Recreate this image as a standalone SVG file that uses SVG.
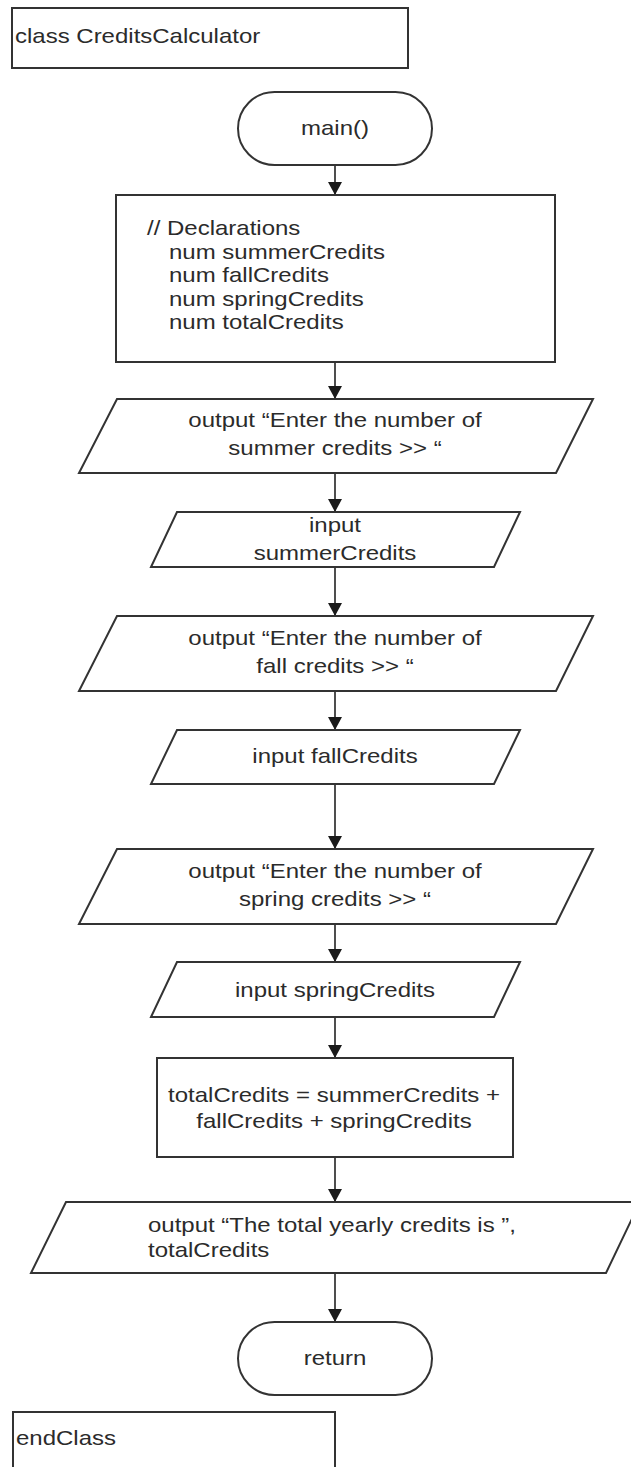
<svg xmlns="http://www.w3.org/2000/svg" width="631" height="1467" viewBox="0 0 631 1467">
  <defs>
    <marker id="arrow" markerUnits="userSpaceOnUse" markerWidth="14" markerHeight="14" viewBox="0 0 12 13" refX="12" refY="6.5" orient="auto">
      <path d="M0,0 L12,6.5 L0,13 Z" fill="#1a1a1a"/>
    </marker>
    <style>
      .shape { fill: #ffffff; stroke: #333333; stroke-width: 2; }
      .conn { fill: none; stroke: #222222; stroke-width: 1.6; marker-end: url(#arrow); }
      .t { font-family: "Liberation Sans", Arial, sans-serif; font-size: 20px; fill: #2b2b2b; }
      .c { text-anchor: middle; }
    </style>
  </defs>
  <rect width="631" height="1467" fill="#ffffff"/>

  <g id="connectors">
    <line class="conn" x1="335" y1="165" x2="335" y2="195"/>
    <line class="conn" x1="335" y1="362" x2="335" y2="399"/>
    <line class="conn" x1="335" y1="473" x2="335" y2="512"/>
    <line class="conn" x1="335" y1="567" x2="335" y2="616"/>
    <line class="conn" x1="335" y1="691" x2="335" y2="730"/>
    <line class="conn" x1="335" y1="784" x2="335" y2="849"/>
    <line class="conn" x1="335" y1="924" x2="335" y2="962"/>
    <line class="conn" x1="335" y1="1017" x2="335" y2="1058"/>
    <line class="conn" x1="335" y1="1157" x2="335" y2="1202"/>
    <line class="conn" x1="335" y1="1273" x2="335" y2="1322"/>
  </g>

  <g id="class-start">
    <rect class="shape" x="12" y="8" width="396" height="60"/>
    <text class="t" transform="translate(15,43) scale(1.2,1)">class CreditsCalculator</text>
  </g>

  <g id="main">
    <rect class="shape" x="238" y="92" width="194" height="73" rx="36.5" ry="36.5"/>
    <text class="t c" transform="translate(335,135) scale(1.2,1)">main()</text>
  </g>

  <g id="declarations">
    <rect class="shape" x="116" y="195" width="439" height="167"/>
    <text class="t" transform="translate(147,235) scale(1.2,1)">// Declarations</text>
    <text class="t" transform="translate(169,258.5) scale(1.2,1)">num summerCredits</text>
    <text class="t" transform="translate(169,282) scale(1.2,1)">num fallCredits</text>
    <text class="t" transform="translate(169,305.5) scale(1.2,1)">num springCredits</text>
    <text class="t" transform="translate(169,329) scale(1.2,1)">num totalCredits</text>
  </g>

  <g id="output-summer">
    <polygon class="shape" points="117,399 593,399 556,473 79,473"/>
    <text class="t c" transform="translate(335,427) scale(1.2,1)">output “Enter the number of</text>
    <text class="t c" transform="translate(335,455) scale(1.2,1)">summer credits &gt;&gt; “</text>
  </g>

  <g id="input-summer">
    <polygon class="shape" points="177,512 520,512 494,567 151,567"/>
    <text class="t c" transform="translate(335,532) scale(1.2,1)">input</text>
    <text class="t c" transform="translate(335,560) scale(1.2,1)">summerCredits</text>
  </g>

  <g id="output-fall">
    <polygon class="shape" points="117,616 593,616 556,691 79,691"/>
    <text class="t c" transform="translate(335,645) scale(1.2,1)">output “Enter the number of</text>
    <text class="t c" transform="translate(335,673) scale(1.2,1)">fall credits &gt;&gt; “</text>
  </g>

  <g id="input-fall">
    <polygon class="shape" points="177,730 520,730 494,784 151,784"/>
    <text class="t c" transform="translate(335,763) scale(1.2,1)">input fallCredits</text>
  </g>

  <g id="output-spring">
    <polygon class="shape" points="117,849 593,849 556,924 79,924"/>
    <text class="t c" transform="translate(335,878) scale(1.2,1)">output “Enter the number of</text>
    <text class="t c" transform="translate(335,906) scale(1.2,1)">spring credits &gt;&gt; “</text>
  </g>

  <g id="input-spring">
    <polygon class="shape" points="177,962 520,962 494,1017 151,1017"/>
    <text class="t c" transform="translate(335,997) scale(1.2,1)">input springCredits</text>
  </g>

  <g id="compute-total">
    <rect class="shape" x="157" y="1058" width="356" height="99"/>
    <text class="t c" transform="translate(334,1102) scale(1.2,1)">totalCredits = summerCredits +</text>
    <text class="t c" transform="translate(334,1128) scale(1.2,1)">fallCredits + springCredits</text>
  </g>

  <g id="output-total">
    <polygon class="shape" points="66,1202 640,1202 606,1273 31,1273"/>
    <text class="t" transform="translate(148,1232) scale(1.2,1)">output “The total yearly credits is ”,</text>
    <text class="t" transform="translate(148,1257) scale(1.2,1)">totalCredits</text>
  </g>

  <g id="return">
    <rect class="shape" x="238" y="1322" width="194" height="73" rx="36.5" ry="36.5"/>
    <text class="t c" transform="translate(335,1365) scale(1.2,1)">return</text>
  </g>

  <g id="class-end">
    <rect class="shape" x="13" y="1412" width="322" height="70"/>
    <text class="t" transform="translate(16,1445) scale(1.2,1)">endClass</text>
  </g>
</svg>
